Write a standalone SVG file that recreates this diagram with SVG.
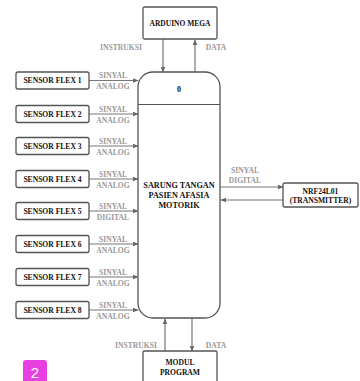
<svg xmlns="http://www.w3.org/2000/svg" width="360" height="381" viewBox="0 0 360 381">
<style>
.box{fill:#fff;stroke:#555;stroke-width:1.3}
.t{font-family:"Liberation Serif",serif;font-weight:bold;fill:#111;text-anchor:middle}
.l{font-family:"Liberation Serif",serif;font-weight:bold;fill:#999;font-size:7.6px;text-anchor:middle}
.c{stroke:#777;stroke-width:1.2;fill:none}
</style>
<defs>
<marker id="ah" viewBox="0 0 10 10" refX="9" refY="5" markerWidth="6" markerHeight="6" orient="auto" markerUnits="userSpaceOnUse">
<path d="M0,1 L10,5 L0,9 z" fill="#666"/>
</marker>
</defs>
<rect width="360" height="381" fill="#fff"/>
<g id="connectors">
<line class="c" x1="163" y1="39" x2="163" y2="72" marker-end="url(#ah)"/>
<line class="c" x1="195" y1="72" x2="195" y2="40" marker-end="url(#ah)"/>
<text class="l" x="121" y="50">INSTRUKSI</text>
<text class="l" x="216" y="50">DATA</text>
<line class="c" x1="89" y1="80.5" x2="138" y2="80.5" marker-end="url(#ah)"/>
<line class="c" x1="89" y1="114" x2="138" y2="114" marker-end="url(#ah)"/>
<line class="c" x1="89" y1="146" x2="138" y2="146" marker-end="url(#ah)"/>
<line class="c" x1="89" y1="179" x2="138" y2="179" marker-end="url(#ah)"/>
<line class="c" x1="89" y1="211" x2="138" y2="211" marker-end="url(#ah)"/>
<line class="c" x1="89" y1="244" x2="138" y2="244" marker-end="url(#ah)"/>
<line class="c" x1="89" y1="277" x2="138" y2="277" marker-end="url(#ah)"/>
<line class="c" x1="89" y1="310" x2="138" y2="310" marker-end="url(#ah)"/>
<text class="l" x="113" y="78">SINYAL</text><text class="l" x="113" y="89">ANALOG</text>
<text class="l" x="113" y="112">SINYAL</text><text class="l" x="113" y="123">ANALOG</text>
<text class="l" x="113" y="144">SINYAL</text><text class="l" x="113" y="155">ANALOG</text>
<text class="l" x="113" y="177">SINYAL</text><text class="l" x="113" y="188">ANALOG</text>
<text class="l" x="113" y="209">SINYAL</text><text class="l" x="113" y="220">DIGITAL</text>
<text class="l" x="113" y="242">SINYAL</text><text class="l" x="113" y="253">ANALOG</text>
<text class="l" x="113" y="275">SINYAL</text><text class="l" x="113" y="286">ANALOG</text>
<text class="l" x="113" y="308">SINYAL</text><text class="l" x="113" y="319">ANALOG</text>
<line class="c" x1="220" y1="187" x2="283" y2="187" marker-end="url(#ah)"/>
<line class="c" x1="283" y1="200" x2="221" y2="200" marker-end="url(#ah)"/>
<text class="l" x="245" y="173">SINYAL</text><text class="l" x="245" y="183">DIGITAL</text>
<line class="c" x1="165" y1="351" x2="165" y2="319" marker-end="url(#ah)"/>
<line class="c" x1="192" y1="318" x2="192" y2="351" marker-end="url(#ah)"/>
<text class="l" x="136" y="348">INSTRUKSI</text>
<text class="l" x="216" y="348">DATA</text>
</g>
<g id="arduino"><rect class="box" x="143" y="7" width="74" height="32" rx="1.5"/><text class="t" x="180" y="26" font-size="7.5">ARDUINO MEGA</text></g>
<g id="main">
<path class="box" d="M153,72 H205 A15,15 0 0 1 220,87 V303 A15,15 0 0 1 205,318 H153 A15,15 0 0 1 138,303 V87 A15,15 0 0 1 153,72 Z"/>
<line x1="138" y1="104.5" x2="220" y2="104.5" stroke="#555" stroke-width="1.2"/>
<text class="t" x="179" y="92" font-size="8">0</text>
<text class="t" x="179" y="188" font-size="8.2">SARUNG TANGAN</text>
<text class="t" x="179" y="198" font-size="8.2">PASIEN AFASIA</text>
<text class="t" x="179" y="207.5" font-size="8.2">MOTORIK</text>
</g>
<g id="s1"><rect class="box" x="16" y="72" width="73" height="17" rx="2"/><text class="t" x="52.5" y="83.2" font-size="7.6">SENSOR FLEX 1</text></g>
<g id="s2"><rect class="box" x="16" y="105.5" width="73" height="17" rx="2"/><text class="t" x="52.5" y="116.7" font-size="7.6">SENSOR FLEX 2</text></g>
<g id="s3"><rect class="box" x="16" y="137.5" width="73" height="17" rx="2"/><text class="t" x="52.5" y="148.7" font-size="7.6">SENSOR FLEX 3</text></g>
<g id="s4"><rect class="box" x="16" y="170.5" width="73" height="17" rx="2"/><text class="t" x="52.5" y="181.7" font-size="7.6">SENSOR FLEX 4</text></g>
<g id="s5"><rect class="box" x="16" y="202.5" width="73" height="17" rx="2"/><text class="t" x="52.5" y="213.7" font-size="7.6">SENSOR FLEX 5</text></g>
<g id="s6"><rect class="box" x="16" y="235.5" width="73" height="17" rx="2"/><text class="t" x="52.5" y="246.7" font-size="7.6">SENSOR FLEX 6</text></g>
<g id="s7"><rect class="box" x="16" y="268.5" width="73" height="17" rx="2"/><text class="t" x="52.5" y="279.7" font-size="7.6">SENSOR FLEX 7</text></g>
<g id="s8"><rect class="box" x="16" y="301.5" width="73" height="17" rx="2"/><text class="t" x="52.5" y="312.7" font-size="7.6">SENSOR FLEX 8</text></g>
<g id="nrf"><rect class="box" x="283" y="183" width="75" height="24" rx="2"/><text class="t" x="320.5" y="193.5" font-size="7.6">NRF24L01</text><text class="t" x="320.5" y="203" font-size="7.6">(TRANSMITTER)</text></g>
<g id="modul"><rect class="box" x="143" y="351" width="74" height="40" rx="1.5"/><text class="t" x="180" y="365" font-size="7.6">MODUL</text><text class="t" x="180" y="375" font-size="7.6">PROGRAM</text></g>
<g id="badge"><rect x="23" y="360" width="24" height="26" rx="3" fill="#e83fe0"/><text x="35" y="378" font-family="Liberation Sans,sans-serif" font-size="15" fill="#fff" text-anchor="middle">2</text></g>
</svg>
